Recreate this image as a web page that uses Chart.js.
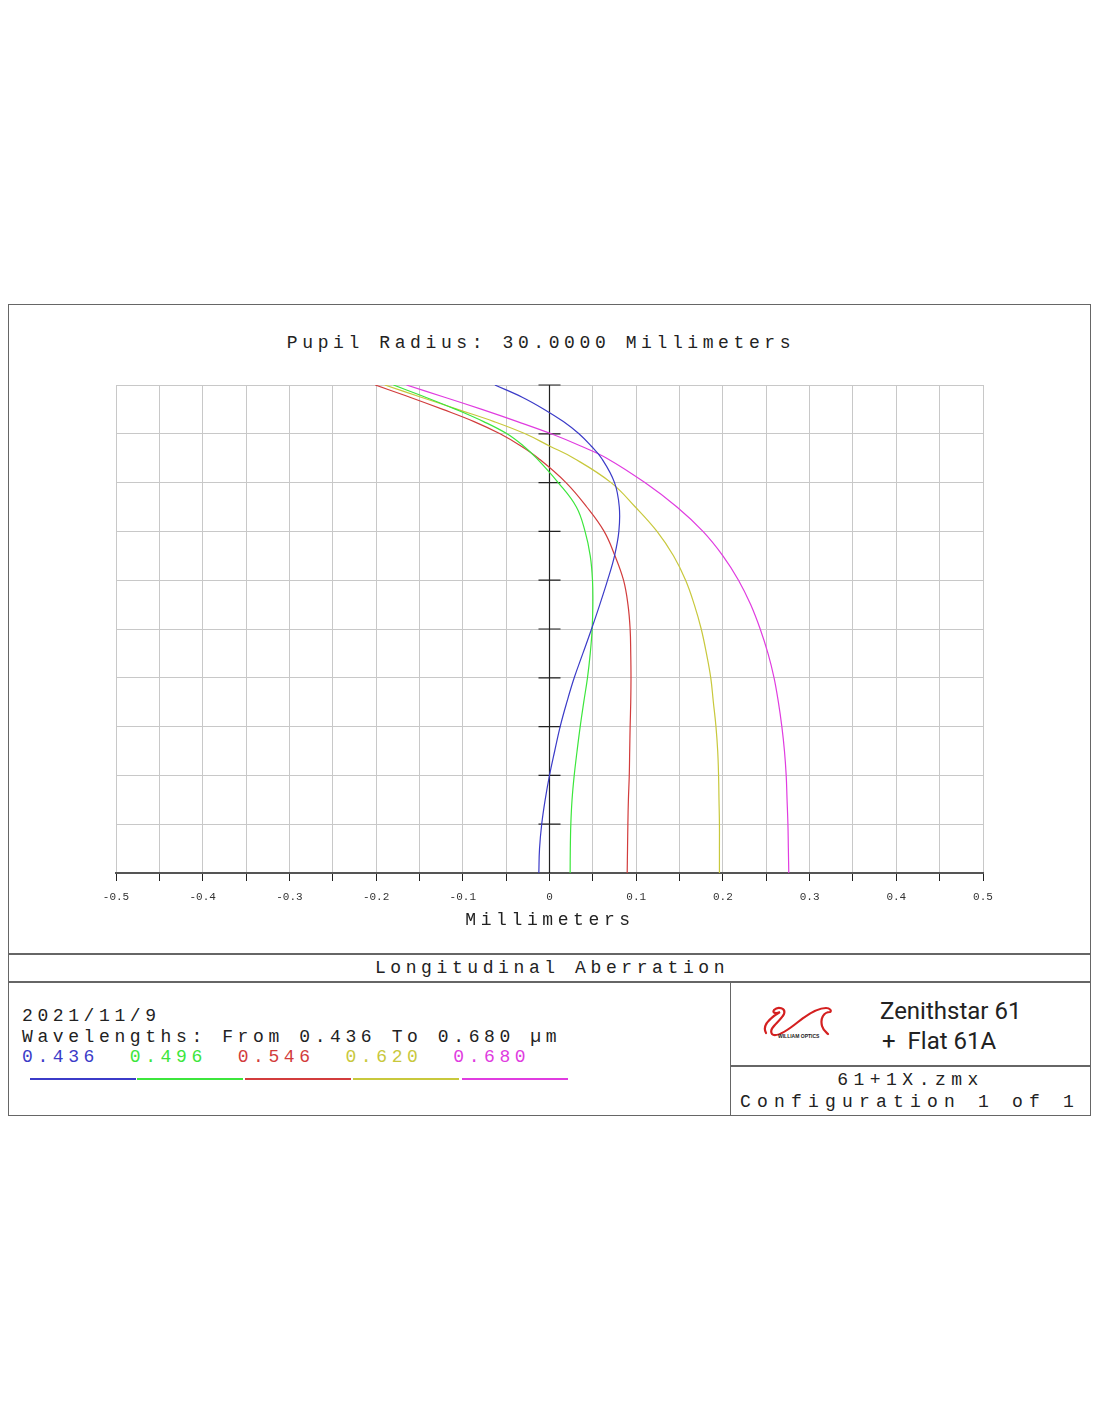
<!DOCTYPE html>
<html>
<head>
<meta charset="utf-8">
<script src="https://cdn.jsdelivr.net/npm/chart.js@4.4.1/dist/chart.umd.min.js"></script>
<style>
  body { margin: 0; background: #fff; width: 1100px; height: 1422px; position: relative; overflow: hidden; }
  .mono { position: absolute; font-family: "Liberation Mono", "Courier New", monospace; font-size: 18px;
          line-height: 20px; letter-spacing: 4.6px; color: #222; white-space: pre; }
  .frame { position: absolute; background: #666; }
  #chartBox { position: absolute; left: 0; top: 375px; width: 1100px; height: 550px; }
  .swatch { position: absolute; top: 1078px; height: 1.5px; }
  .sans { position: absolute; font-family: Roboto, "Noto Sans", sans-serif; font-size: 24px; line-height: 28px; color: #222; white-space: pre; }
</style>
</head>
<body>

<!-- outer frame and dividers -->
<div style="position:absolute;left:8px;top:304px;width:1081px;height:810px;border:1px solid #666;"></div>
<div class="frame" style="left:8px;top:953px;width:1083px;height:1.5px;"></div>
<div class="frame" style="left:8px;top:981px;width:1083px;height:1.5px;"></div>
<div class="frame" style="left:729.5px;top:981px;width:1.5px;height:135px;"></div>
<div class="frame" style="left:730px;top:1065px;width:361px;height:1.5px;"></div>

<div class="mono" style="left:0;width:1082px;text-align:center;top:333px;">Pupil Radius: 30.0000 Millimeters</div>

<div id="chartBox"><canvas id="lineChart"></canvas></div>

<div class="mono" style="left:0;width:1100px;text-align:center;top:910px;">Millimeters</div>
<div class="mono" style="left:0;width:1104px;text-align:center;top:958px;">Longitudinal Aberration</div>

<div class="mono" style="left:22px;top:1006px;">2021/11/9</div>
<div class="mono" style="left:22px;top:1027px;">Wavelengths: From 0.436 To 0.680 µm</div>
<div class="mono" id="waveRow" style="left:22px;top:1047px;"></div>
<div id="swatches"></div>

<!-- logo -->
<svg style="position:absolute;left:760px;top:1000px;" width="80" height="45" viewBox="0 0 80 45">
  <path d="M6 33 C2 26 10 18 20 12 C16 14 12 13 14 10 C18 6 26 8 24 14 C20 22 8 28 12 34 C16 38 28 30 38 22 C48 14 58 8 66 8 C70 8 72 11 70 12 C64 12 60 18 62 26 C63 30 66 32 68 34"
        fill="none" stroke="#d42020" stroke-width="2.2" stroke-linecap="round"/>
  <text x="18" y="38" font-family="Liberation Sans, sans-serif" font-size="5" font-weight="bold" fill="#222">WILLIAM OPTICS</text>
</svg>
<div class="sans" style="left:880px;top:997px;">Zenithstar 61</div>
<div class="sans" style="left:882px;top:1027px;">+  Flat 61A</div>

<div class="mono" style="left:730px;width:361px;text-align:center;top:1070px;letter-spacing:5.5px;">61+1X.zmx</div>
<div class="mono" style="left:740px;top:1092px;letter-spacing:6.2px;">Configuration 1 of 1</div>

<script>
// relative pupil height (y) and longitudinal aberration in mm (x) per wavelength
const pupil = [0, 0.05, 0.1, 0.15, 0.2, 0.25, 0.3, 0.35, 0.4, 0.45, 0.5, 0.55, 0.6, 0.65, 0.7, 0.75, 0.8, 0.85,
               0.875, 0.9, 0.925, 0.95, 0.975, 1];

const wavelengths = ['0.436', '0.496', '0.546', '0.620', '0.680'];
const colors = ['#3b3bc8', '#3ce63c', '#d23c3c', '#c8c83c', '#e03ce0'];

const ab436 = [-0.0123, -0.0115, -0.009, -0.005, 0.0, 0.006, 0.0123, 0.020, 0.0285, 0.0385, 0.0485, 0.058, 0.067, 0.075, 0.080, 0.0805, 0.075, 0.060,
               0.048, 0.034, 0.016, -0.006, -0.0315, -0.063];
const ab496 = [0.0238, 0.024, 0.0246, 0.026, 0.0285, 0.0318, 0.0354, 0.0395, 0.0438, 0.047, 0.0492, 0.050, 0.0496, 0.047, 0.041, 0.031, 0.010, -0.015,
               -0.030, -0.049, -0.076, -0.108, -0.143, -0.18];
const ab546 = [0.0896, 0.090, 0.0904, 0.091, 0.092, 0.0925, 0.093, 0.0937, 0.094, 0.0937, 0.093, 0.0905, 0.0854, 0.0755, 0.063, 0.043, 0.019, -0.013,
               -0.033, -0.057, -0.087, -0.123, -0.161, -0.201];
const ab620 = [0.196, 0.196, 0.196, 0.1955, 0.195, 0.194, 0.192, 0.189, 0.186, 0.181, 0.175, 0.167, 0.157, 0.143, 0.124, 0.099, 0.071, 0.028,
               0.0, -0.028, -0.064, -0.106, -0.148, -0.19];
const ab680 = [0.276, 0.2755, 0.275, 0.274, 0.273, 0.271, 0.268, 0.264, 0.259, 0.252, 0.243, 0.232, 0.218, 0.200, 0.177, 0.147, 0.110, 0.066,
               0.036, 0.002, -0.037, -0.078, -0.121, -0.165];

const series = [ab436, ab496, ab546, ab620, ab680];

// legend row under the plot
const waveRow = document.getElementById('waveRow');
wavelengths.forEach((w, i) => {
  const s = document.createElement('span');
  s.style.color = colors[i];
  s.textContent = w + (i < wavelengths.length - 1 ? '  ' : '');
  waveRow.appendChild(s);
});
const swatchX = [30, 137, 245, 353, 462];
swatchX.forEach((x, i) => {
  const d = document.createElement('div');
  d.className = 'swatch';
  d.style.left = x + 'px';
  d.style.width = '106px';
  d.style.background = colors[i];
  document.getElementById('swatches').appendChild(d);
});

// black y axis through x = 0 with ticks on both sides
const centerAxis = {
  id: 'centerAxis',
  beforeDatasetsDraw(chart) {
    const { ctx, chartArea, scales } = chart;
    const x0 = scales.x.getPixelForValue(0);
    ctx.save();
    ctx.strokeStyle = '#222';
    ctx.lineWidth = 1.2;
    ctx.beginPath();
    ctx.moveTo(x0, chartArea.top);
    ctx.lineTo(x0, chartArea.bottom);
    for (let v = 1; v <= 10; v++) {
      const y = scales.y.getPixelForValue(v / 10);
      ctx.moveTo(x0 - 11, y);
      ctx.lineTo(x0 + 11, y);
    }
    ctx.stroke();
    ctx.restore();
  }
};

const ctx = document.getElementById('lineChart').getContext('2d');
new Chart(ctx, {
  type: 'scatter',
  data: {
    datasets: series.map((xs, i) => ({
      label: wavelengths[i],
      data: xs.map((x, k) => ({ x: x, y: pupil[k] })),
      showLine: true,
      borderColor: colors[i],
      borderWidth: 1.2,
      pointRadius: 0,
      tension: 0.4,
      fill: false,
    })),
  },
  options: {
    responsive: true,
    maintainAspectRatio: false,
    animation: false,
    layout: { padding: { left: 116, right: 117, top: 10, bottom: 12 } },
    plugins: {
      legend: { display: false },
      title: { display: false },
      tooltip: { enabled: false },
    },
    scales: {
      x: {
        type: 'linear',
        min: -0.5,
        max: 0.5,
        afterFit: (s) => { s.height = 40; },
        ticks: {
          stepSize: 0.05,
          autoSkip: false,
          maxRotation: 0,
          padding: 9,
          color: '#333',
          font: { family: 'Liberation Mono', size: 11 },
          callback: (v) => {
            const n = Math.round(v * 20);
            if (n % 2 !== 0) return '';
            return n === 0 ? '0' : (n / 20).toFixed(1);
          },
        },
        grid: { color: '#c8c8c8', lineWidth: 1, tickColor: '#222', tickLength: 8 },
        border: { color: '#555', width: 2 },
      },
      y: {
        min: 0,
        max: 1,
        afterFit: (s) => { s.width = 0; },
        ticks: { display: false, stepSize: 0.1 },
        grid: { color: '#c8c8c8', lineWidth: 1, drawTicks: false },
        border: { display: false },
      },
    },
  },
  plugins: [centerAxis],
});
</script>
</body>
</html>
